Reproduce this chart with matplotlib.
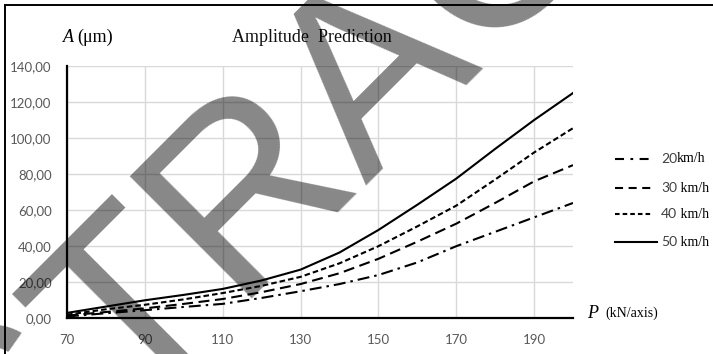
import numpy as np
import matplotlib
matplotlib.use("Agg")
import matplotlib.pyplot as plt
from matplotlib.lines import Line2D

plt.rcParams['lines.scale_dashes'] = False

# load P (kN/axis) and amplitude A (um)
load = [70, 80, 90, 100, 110, 120, 130, 140, 150, 160, 170, 180, 190, 200]
amp_20 = [1.0, 2.8, 4.5, 6.3, 8.0, 11.3, 15.0, 19.0, 24.0, 31.0, 40.0, 48.0, 56.0, 64.0]
amp_30 = [1.5, 3.5, 5.5, 8.0, 10.7, 14.5, 19.0, 25.0, 33.0, 42.5, 52.5, 64.0, 76.0, 85.0]
amp_40 = [2.0, 5.0, 7.5, 10.5, 14.0, 18.0, 23.0, 30.5, 40.0, 51.0, 62.5, 77.0, 92.0, 105.5]
amp_50 = [3.0, 6.5, 10.0, 13.0, 16.3, 21.0, 27.0, 36.5, 49.0, 63.0, 77.5, 94.0, 110.0, 125.0]

speeds = ['20', '30', '40', '50']
units = ['km/h', ' km/h', ' km/h', ' km/h']
series = [amp_20, amp_30, amp_40, amp_50]
x_ticks = [70, 90, 110, 130, 150, 170, 190]
y_ticks = [0, 20, 40, 60, 80, 100, 120, 140]

# dash patterns in points (1 px = 0.72 pt at 100 dpi)
styles = [(0, (8.6, 3.6, 1.8, 3.6)), (0, (7.9, 4.0)), (0, (4.0, 2.2)), '-']
legend_styles = [(0, (6.5, 4.6, 2.0, 4.6)), (0, (5.8, 4.0)), (0, (3.3, 2.2)), '-']

W, H = 713, 354
fig = plt.figure(figsize=(W / 100, H / 100), dpi=100)


def fx(px):
    return px / W


def fy(py):
    return 1 - py / H


ax = fig.add_axes([fx(67), fy(318.3), fx(573) - fx(67), fy(66) - fy(318.3)])
for vals, ls in zip(series, styles):
    ax.plot(load, vals, color='black', linestyle=ls, linewidth=1.5)

ax.set_xlim(70, 200)
ax.set_ylim(0, 140)
ax.set_xticks(x_ticks)
ax.set_yticks(y_ticks)
ax.set_yticklabels([f"{v:.2f}".replace('.', ',') for v in y_ticks])
ax.grid(True, color='#d9d9d9', linewidth=1.0)
ax.set_axisbelow(True)
for s in ['top', 'right']:
    ax.spines[s].set_visible(False)
for s in ['left', 'bottom']:
    ax.spines[s].set_linewidth(1.6)
    ax.spines[s].set_color('black')
ax.tick_params(length=0, labelsize=9.5, labelcolor='#595959', pad=11)
for lab in ax.get_xticklabels() + ax.get_yticklabels():
    lab.set_fontfamily('Lato')

# titles and axis names
fig.text(fx(312), fy(37), 'Amplitude  Prediction', ha='center', va='center',
         family='Liberation Serif', fontsize=13, color='#111111')
fig.text(fx(63), fy(37), 'A', ha='left', va='center', family='Liberation Serif',
         style='italic', fontsize=13)
fig.text(fx(77), fy(37), '(μm)', ha='left', va='center', family='Liberation Serif',
         fontsize=13)
fig.text(fx(587), fy(313), 'P', ha='left', va='center', family='Liberation Serif',
         style='italic', fontsize=13)
fig.text(fx(605), fy(313), '(kN/axis)', ha='left', va='center',
         family='Liberation Serif', fontsize=10)

# legend drawn by hand to mix fonts
rows = [159, 188, 214, 242]
for sp, un, ls, py in zip(speeds, units, legend_styles, rows):
    x1 = 657 if ls == '-' else 651
    fig.add_artist(Line2D([fx(615), fx(x1)], [fy(py), fy(py)], color='black',
                          linestyle=ls, linewidth=1.5))
    t = fig.text(fx(661), fy(py), sp, ha='left', va='center', family='Lato',
                 fontsize=10, color='#404040')
    fig.canvas.draw()
    bb = t.get_window_extent()
    fig.text(bb.x1 / W, fy(py), un, ha='left', va='center',
             family='Liberation Serif', fontsize=10, color='black')

# frame lines at left and top
fig.add_artist(Line2D([fx(5), fx(5)], [0, fy(5)], color='black', linewidth=1.4))
fig.add_artist(Line2D([fx(5), 1], [fy(5), fy(5)], color='black', linewidth=1.4))

# watermark, split at the T so the letters land where they do in the source
wm = dict(rotation=45, rotation_mode='anchor', va='baseline', family='Liberation Sans',
          fontsize=180, color='black', alpha=0.47, zorder=10)
fig.text(fx(129.4), fy(416.5), 'TRACT', ha='left', **wm)
fig.text(fx(129.4), fy(416.5), 'ABS', ha='right', **wm)

fig.savefig('out.png', dpi=100)
